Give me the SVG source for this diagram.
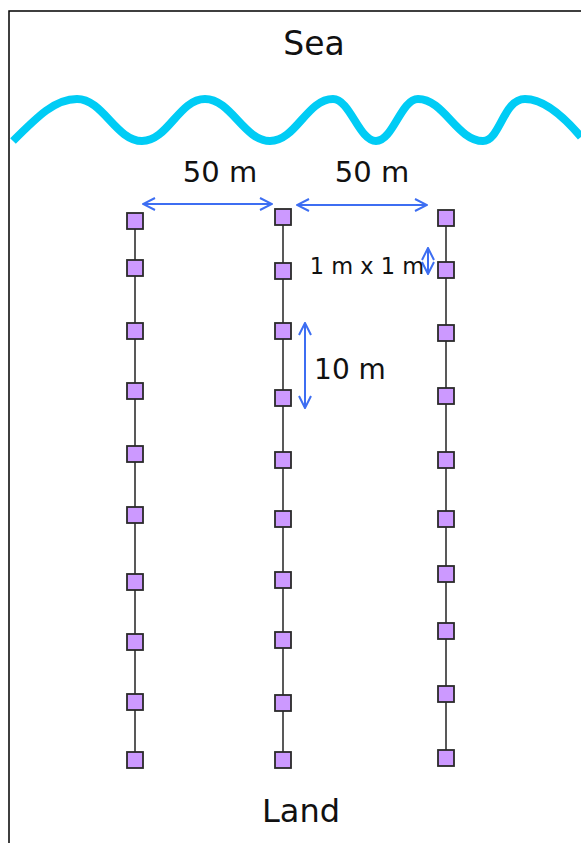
<svg xmlns="http://www.w3.org/2000/svg" width="581" height="843" viewBox="0 0 581 843">
<style>
.lbl{font-family:"DejaVu Sans","Liberation Sans",sans-serif;fill:#111}
.sq{fill:#cc99ff;stroke:#2a2a2a;stroke-width:1.8}
.ln{stroke:#222;stroke-width:1.5;fill:none}
.arr{stroke:#3d6ef2;stroke-width:2;fill:none;marker-start:url(#ah);marker-end:url(#ah)}
</style>
<defs>
<marker id="ah" viewBox="0 0 14 14" refX="13" refY="7" markerWidth="14" markerHeight="14" markerUnits="userSpaceOnUse" orient="auto-start-reverse">
<path d="M1,1 L13,7 L1,13" fill="none" stroke="#3d6ef2" stroke-width="2"/>
</marker>
</defs>
<rect width="581" height="843" fill="#fff"/>
<path d="M9,900 V11 H600" fill="none" stroke="#000" stroke-width="1.5"/>
<g id="sea">
<text class="lbl" x="314" y="55" font-size="33" text-anchor="middle">Sea</text>
<path d="M13,141 C38,116 55,99 77,99 C103,99 116,141 142,141 C168,141 179,99 205,99 C231,99 244,141 270,141 C296,141 307,99 333,99 C350,99 359,141 376,141 C393,141 401,99 418,99 C444,99 457,141 483,141 C500,141 503,99 525,99 C545,99 565,118 581,137" fill="none" stroke="#00ccf5" stroke-width="8"/>
</g>
<g id="connectors">
<path class="ln" d="M135,221 V760"/>
<path class="ln" d="M283,217 V760"/>
<path class="ln" d="M446,218 V758"/>
<path class="arr" d="M143,204 H272"/>
<path class="arr" d="M297,205 H427"/>
<path class="arr" d="M305,323 V408"/>
<path class="arr" d="M428,248 V274"/>
</g>
<g id="labels">
<text class="lbl" x="220" y="182" font-size="29" text-anchor="middle">50 m</text>
<text class="lbl" x="372" y="182" font-size="29" text-anchor="middle">50 m</text>
<text class="lbl" x="350" y="379" font-size="28" text-anchor="middle">10 m</text>
<text class="lbl" x="367" y="274" font-size="22.5" text-anchor="middle">1 m x 1 m</text>
</g>
<g id="col1">
<rect class="sq" x="127" y="213" width="16" height="16"/>
<rect class="sq" x="127" y="260" width="16" height="16"/>
<rect class="sq" x="127" y="323" width="16" height="16"/>
<rect class="sq" x="127" y="383" width="16" height="16"/>
<rect class="sq" x="127" y="446" width="16" height="16"/>
<rect class="sq" x="127" y="507" width="16" height="16"/>
<rect class="sq" x="127" y="574" width="16" height="16"/>
<rect class="sq" x="127" y="634" width="16" height="16"/>
<rect class="sq" x="127" y="694" width="16" height="16"/>
<rect class="sq" x="127" y="752" width="16" height="16"/>
</g>
<g id="col2">
<rect class="sq" x="275" y="209" width="16" height="16"/>
<rect class="sq" x="275" y="263" width="16" height="16"/>
<rect class="sq" x="275" y="323" width="16" height="16"/>
<rect class="sq" x="275" y="390" width="16" height="16"/>
<rect class="sq" x="275" y="452" width="16" height="16"/>
<rect class="sq" x="275" y="511" width="16" height="16"/>
<rect class="sq" x="275" y="572" width="16" height="16"/>
<rect class="sq" x="275" y="632" width="16" height="16"/>
<rect class="sq" x="275" y="695" width="16" height="16"/>
<rect class="sq" x="275" y="752" width="16" height="16"/>
</g>
<g id="col3">
<rect class="sq" x="438" y="210" width="16" height="16"/>
<rect class="sq" x="438" y="262" width="16" height="16"/>
<rect class="sq" x="438" y="325" width="16" height="16"/>
<rect class="sq" x="438" y="388" width="16" height="16"/>
<rect class="sq" x="438" y="452" width="16" height="16"/>
<rect class="sq" x="438" y="511" width="16" height="16"/>
<rect class="sq" x="438" y="566" width="16" height="16"/>
<rect class="sq" x="438" y="623" width="16" height="16"/>
<rect class="sq" x="438" y="686" width="16" height="16"/>
<rect class="sq" x="438" y="750" width="16" height="16"/>
</g>
<g id="land">
<text class="lbl" x="301" y="822" font-size="32" text-anchor="middle">Land</text>
</g>
</svg>
